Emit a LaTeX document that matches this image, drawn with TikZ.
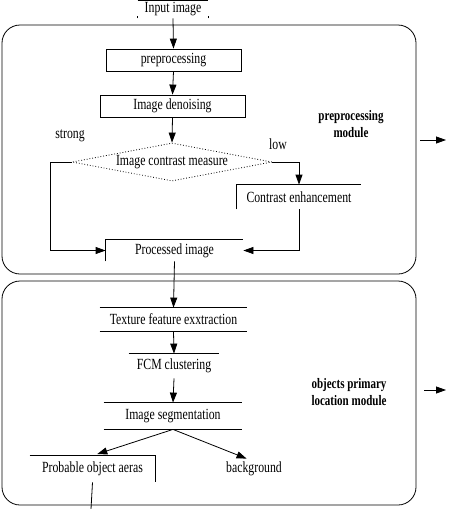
\documentclass[tikz,border=0pt]{standalone}
\usepackage{fontspec}
\setmainfont{Liberation Serif}[FakeStretch=0.76]
\usetikzlibrary{arrows.meta,shapes.geometric}
\begin{document}
\begin{tikzpicture}[x=1pt,y=-1pt,line width=0.8pt,
  lbl/.style={inner sep=0pt,font=\fontsize{15.5}{17}\selectfont},
  bld/.style={inner sep=0pt,font=\fontsize{14.5}{17}\selectfont\bfseries,align=center},
  fullbox/.style={lbl,draw},
  arr/.style={-{Triangle[length=10pt,width=7pt]}},
  module/.style={draw,rounded corners=18pt,inner sep=0pt}]
\useasboundingbox (0,0) rectangle (448,509);
% modules
\node[module,minimum width=414pt,minimum height=249pt] (m1) at (209,149.5) {};
\node[module,minimum width=414pt,minimum height=224pt] (m2) at (209,393) {};
% nodes
\node[lbl,minimum width=70pt,minimum height=17pt] (in) at (173,9.5) {Input image};
\draw (in.north west) -- (in.north east);
\draw (in.south west) -- ++(0,-2) (in.south east) -- ++(0,-2);
\node[fullbox,minimum width=135pt,minimum height=22pt] (pp) at (173.5,60) {preprocessing};
\node[fullbox,minimum width=145pt,minimum height=22pt] (den) at (172.5,106) {Image denoising};
\node[lbl,diamond,draw,dotted,shape aspect=5.3,minimum width=200pt,minimum height=38pt] (cm) at (172,162) {Image contrast measure};
\node[lbl,minimum width=124pt,minimum height=24pt] (ce) at (299,197) {Contrast enhancement};
\draw (ce.south west) -- (ce.north west) -- (ce.north east);
\node[lbl,minimum width=137pt,minimum height=21pt] (proc) at (174.5,250.5) {Processed image};
\draw (proc.south west) -- (proc.north west) -- (proc.north east);
\node[lbl,minimum width=147pt,minimum height=23pt] (tex) at (173.5,319.5) {Texture feature exxtraction};
\draw (tex.north west) -- (tex.north east) (tex.south west) -- (tex.south east);
\node[lbl,minimum width=90pt,minimum height=24pt] (fcm) at (174,366) {FCM clustering};
\draw (fcm.north west) -- (fcm.north east);
\node[lbl,minimum width=138pt,minimum height=26pt] (seg) at (173,416) {Image segmentation};
\draw (seg.north west) -- (seg.north east) (seg.south west) -- (seg.south east);
\node[lbl,minimum width=125pt,minimum height=26pt] (prob) at (92.5,469) {Probable object aeras};
\draw (prob.north west) -- (prob.north east) -- (prob.south east);
\node[lbl] (bg) at (254,469) {background};
\node[lbl] (st) at (70,136) {strong};
\node[lbl] (lo) at (278,144) {low};
\node[bld] (t1) at (351,124) {preprocessing\\module};
\node[bld] (t2) at (349,392) {objects primary\\location module};
% connectors
\draw[arr] (in.south) -- (pp.north);
\draw[arr] (pp.south) -- (den.north);
\draw[arr] (den.south) -- (cm.north);
\coordinate (lc) at (50,162);
\draw[arr] (cm.west) -- (lc) |- (proc.west);
\draw[arr] (cm.east) -| (ce.north);
\draw[arr] (ce.south) |- (proc.east);
\draw[arr] (proc.south) -- (tex.north);
\draw[arr] (tex.south) -- (fcm.north);
\draw[arr] (fcm.south) -- (seg.north);
\draw[arr,shorten >=5pt] (seg.south) -- (prob.north);
\draw[arr,shorten >=8pt] (seg.south) -- (bg.north);
\coordinate (out) at (91,509);
\draw (prob.south) -- (out);
\coordinate (r1) at (446,140);
\coordinate (r2) at (446,390);
\draw[arr,shorten <=4pt] (m1.east |- r1) -- (r1);
\draw[arr,shorten <=8pt] (m2.east |- r2) -- (r2);
\end{tikzpicture}
\end{document}
